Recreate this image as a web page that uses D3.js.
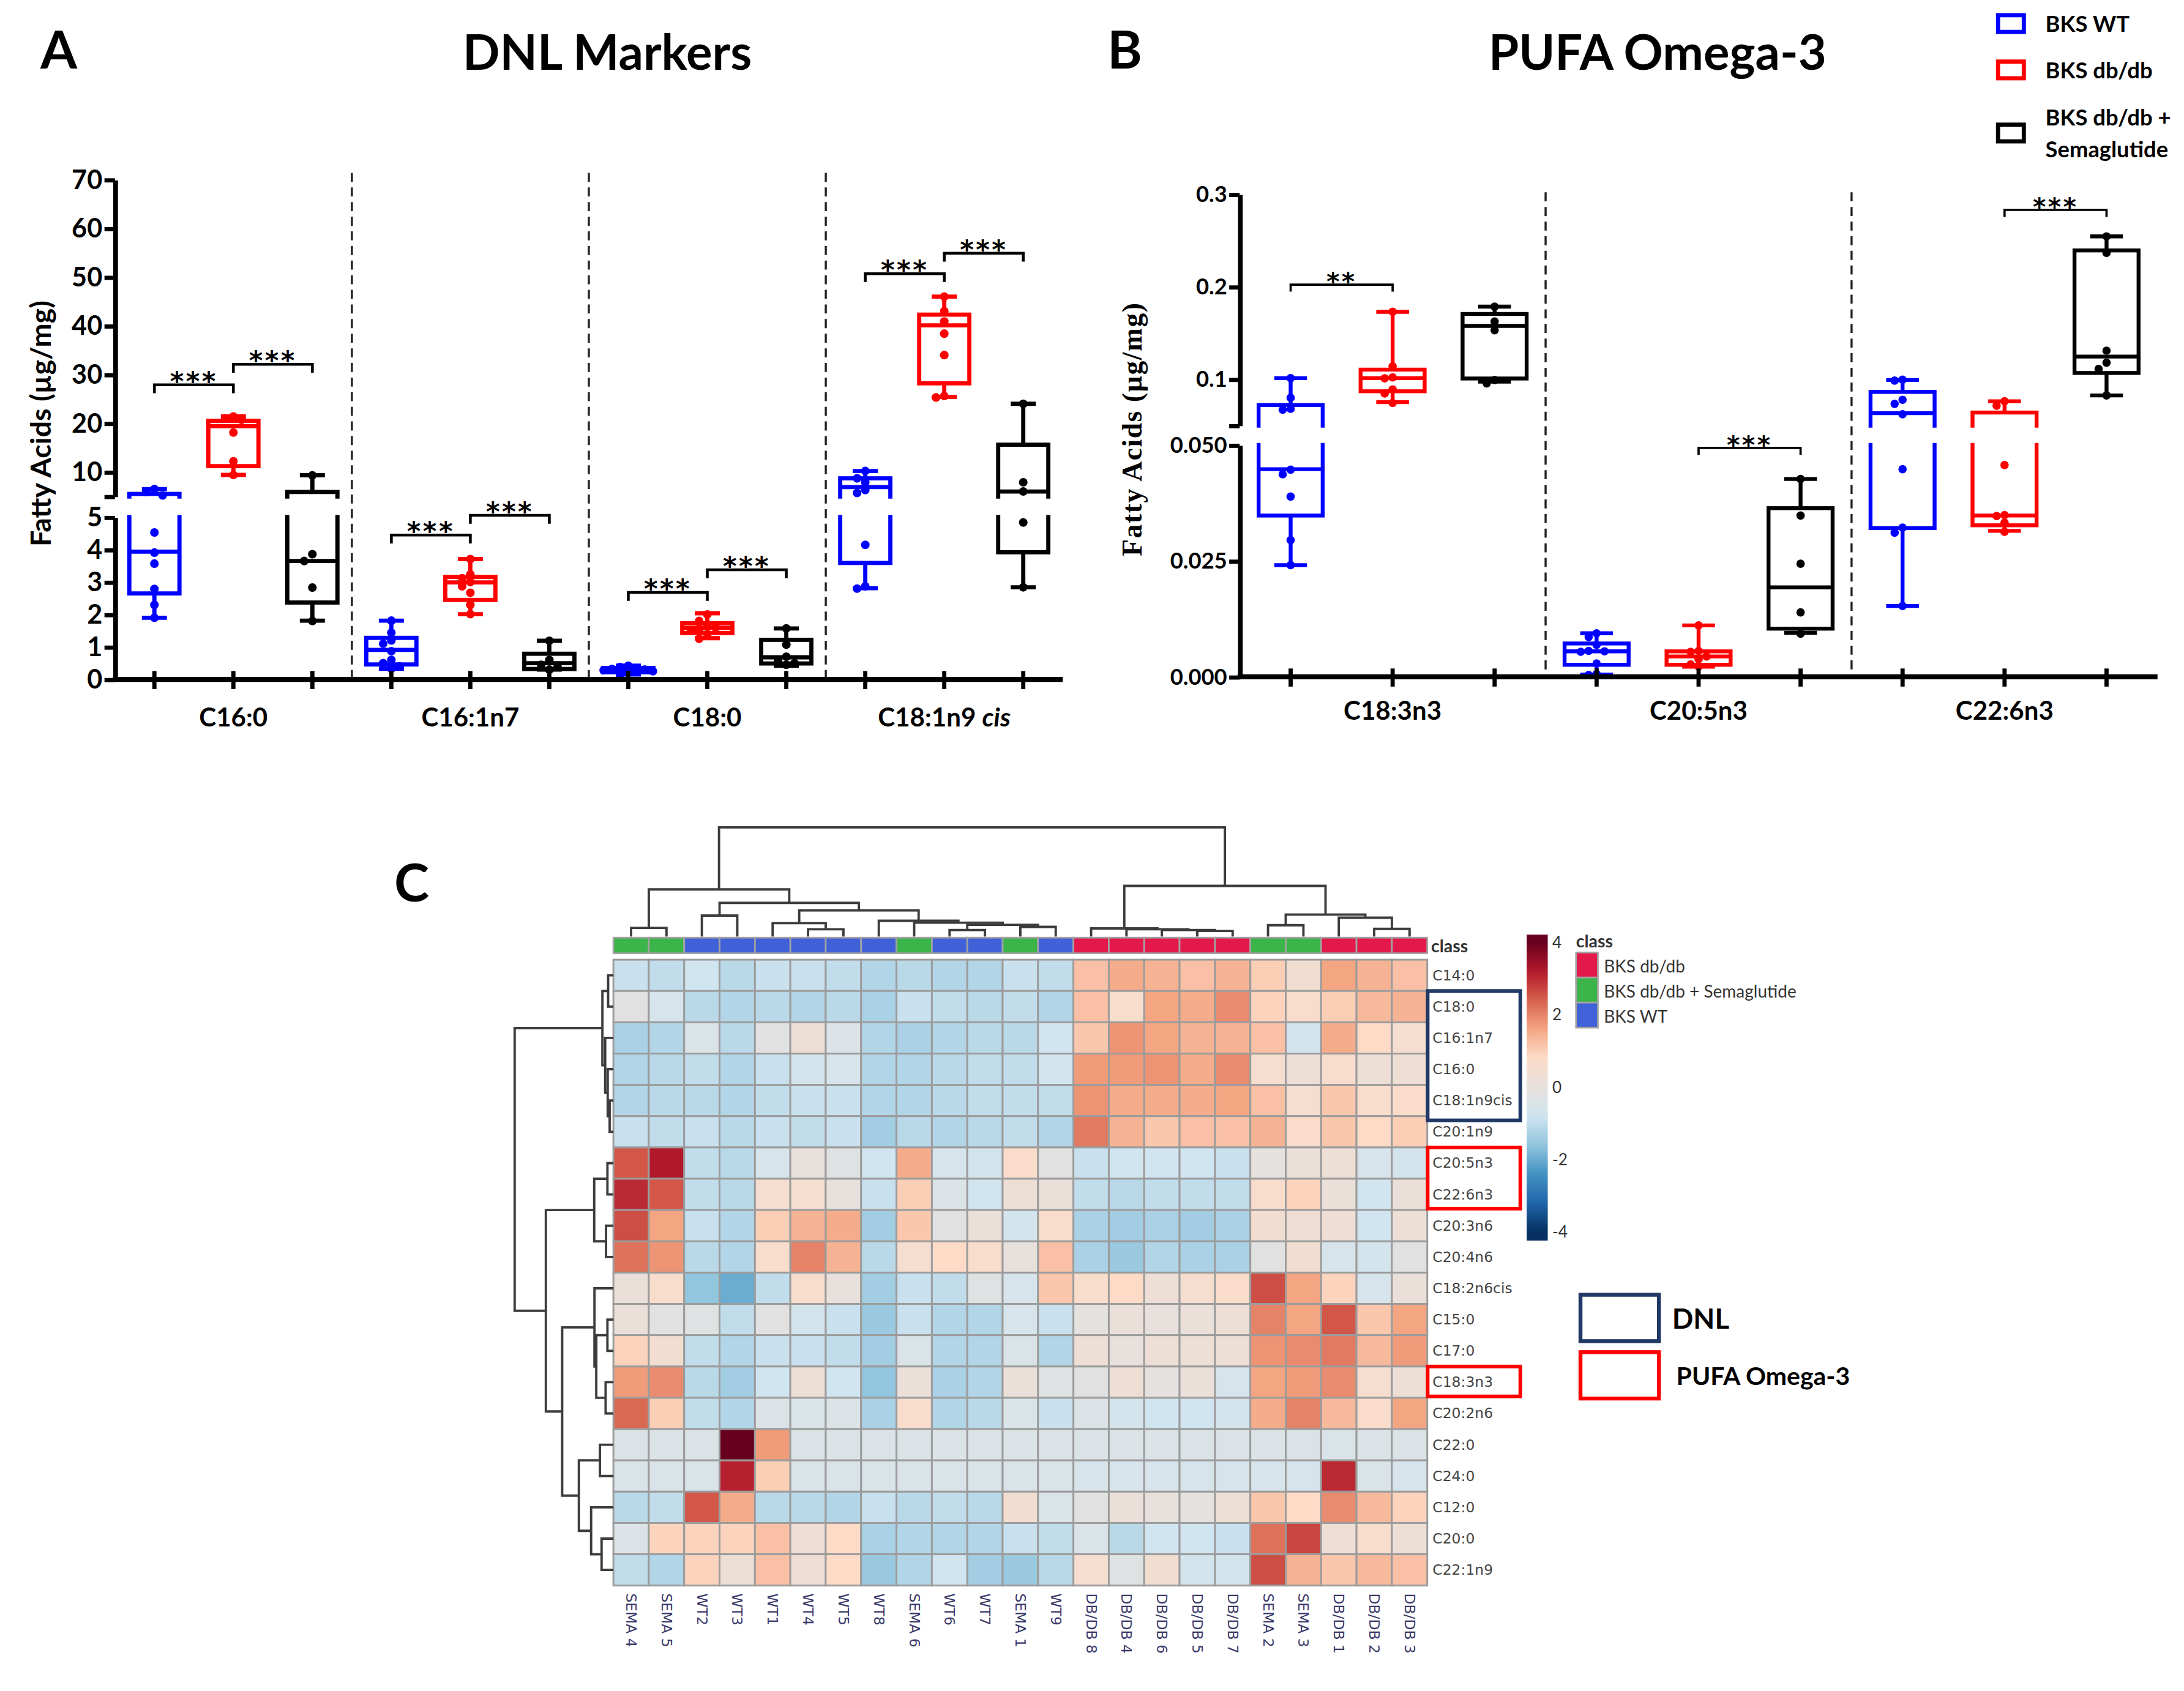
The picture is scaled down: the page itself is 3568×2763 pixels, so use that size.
<!DOCTYPE html>
<html lang="en">
<head>
<meta charset="UTF-8">
<title>DNL markers, PUFA omega-3 and fatty acid heatmap</title>
<script src="https://d3js.org/d3.v7.min.js"></script>
<style>
  body { margin: 0; padding: 0; background: #fff; }
  svg { display: block; }
</style>
</head>
<body>
<svg id="fig" width="3568" height="2763" viewBox="0 0 1568 1214"></svg>
<script>
// ---------- data ----------
const groups = ["BKS WT", "BKS db/db", "BKS db/db + Semaglutide"];

// panel A: DNL markers (µg/mg), per category -> per group -> [min, q1, median, q3, max]
const dnlCats = ["C16:0", "C16:1n7", "C18:0", "C18:1n9 cis"];
const dnlStats = [
  [[1.9, 2.65, 3.94, 5.5, 6.5], [9.4, 11.2, 19.4, 20.5, 21.4], [1.81, 2.37, 3.65, 5.9, 9.34]],
  [[0.33, 0.46, 0.91, 1.28, 1.81], [2.01, 2.45, 2.99, 3.16, 3.71], [0.3, 0.32, 0.5, 0.79, 1.19]],
  [[0.15, 0.22, 0.3, 0.35, 0.42], [1.27, 1.43, 1.59, 1.73, 2.04], [0.42, 0.49, 0.68, 1.22, 1.57]],
  [[2.81, 3.59, 6.9, 8.7, 10.2], [25.4, 28.2, 40.1, 42.3, 46.0], [2.84, 3.92, 6.0, 15.6, 24.0]]
];
const dnlPoints = [
  [[6.5, 5.9, 5.2, 4.53, 3.91, 3.57, 2.79, 2.3, 1.9], [21.4, 21.0, 20.7, 18.1, 12.2, 9.4], [9.3, 3.86, 3.65, 2.83, 1.8]],
  [[1.81, 1.44, 1.2, 1.1, 0.87, 0.6, 0.5, 0.4, 0.33], [3.71, 3.24, 3.12, 3.0, 2.87, 2.67, 2.3, 2.01], [1.19, 0.6, 0.45, 0.38, 0.3]],
  [[0.42, 0.38, 0.35, 0.32, 0.3, 0.28, 0.25, 0.22, 0.15], [2.0, 1.8, 1.7, 1.6, 1.55, 1.5, 1.4, 1.25], [1.57, 1.07, 0.7, 0.6, 0.5, 0.45]],
  [[10.2, 8.7, 7.9, 6.3, 5.7, 4.15, 2.87, 2.8], [46.0, 43.0, 40.9, 38.4, 34.0, 25.6, 25.3], [24.0, 7.9, 6.0, 4.84, 2.84]]
];
const dnlSig = [
  { cat: "C16:0", a: 0, b: 1, y: 27.9, label: "***" },
  { cat: "C16:0", a: 1, b: 2, y: 32.1, label: "***" },
  { cat: "C16:1n7", a: 0, b: 1, y: 4.45, label: "***" },
  { cat: "C16:1n7", a: 1, b: 2, y: 5.06, label: "***" },
  { cat: "C18:0", a: 0, b: 1, y: 2.68, label: "***" },
  { cat: "C18:0", a: 1, b: 2, y: 3.38, label: "***" },
  { cat: "C18:1n9 cis", a: 0, b: 1, y: 50.7, label: "***" },
  { cat: "C18:1n9 cis", a: 1, b: 2, y: 54.9, label: "***" }
];
const dnlTicksUp = [5, 10, 20, 30, 40, 50, 60, 70];
const dnlTicksLo = [0, 1, 2, 3, 4, 5];

// panel B: PUFA omega-3 (µg/mg)
const pufaCats = ["C18:3n3", "C20:5n3", "C22:6n3"];
const pufaStats = [
  [[0.0241, 0.0348, 0.0448, 0.0721, 0.1012], [0.0752, 0.087, 0.1012, 0.1104, 0.1729], [0.0974, 0.1008, 0.1577, 0.1706, 0.1785]],
  [[0.0005, 0.0026, 0.0055, 0.0072, 0.0094], [0.0022, 0.0026, 0.0044, 0.0055, 0.0111], [0.0095, 0.0104, 0.0193, 0.0364, 0.0427]],
  [[0.0153, 0.0321, 0.0633, 0.0863, 0.0992], [0.0315, 0.0327, 0.0348, 0.064, 0.0762], [0.0825, 0.1068, 0.1245, 0.2393, 0.2545]]
];
const pufaPoints = [
  [[0.1012, 0.080, 0.068, 0.067, 0.0447, 0.0437, 0.0389, 0.0295, 0.0241], [0.173, 0.114, 0.102, 0.101, 0.0889, 0.0846, 0.0744], [0.1785, 0.1625, 0.153, 0.0992, 0.0956]],
  [[0.0094, 0.0086, 0.0069, 0.0056, 0.0055, 0.0054, 0.0029, 0.0006, 0.0004], [0.0111, 0.0056, 0.0054, 0.0044, 0.0038, 0.0027, 0.0022], [0.0427, 0.0348, 0.0244, 0.0139, 0.0093]],
  [[0.0995, 0.0985, 0.0778, 0.0734, 0.0621, 0.0448, 0.0322, 0.0311, 0.0153], [0.0762, 0.0714, 0.0457, 0.0349, 0.0347, 0.0333, 0.0313], [0.2545, 0.2367, 0.1309, 0.1179, 0.1111, 0.0825]]
];
const pufaSig = [
  { cat: "C18:3n3", a: 0, b: 1, y: 0.2023, label: "**" },
  { cat: "C20:5n3", a: 1, b: 2, y: 0.0494, label: "***" },
  { cat: "C22:6n3", a: 1, b: 2, y: 0.2831, label: "***" }
];
const pufaTicksUp = [0.05, 0.1, 0.2, 0.3];
const pufaTicksLo = [0, 0.025, 0.05];

// panel C: heatmap (z-scores)
const classNames = ["BKS db/db", "BKS db/db + Semaglutide", "BKS WT"];
const hmCols = ["SEMA 4", "SEMA 5", "WT2", "WT3", "WT1", "WT4", "WT5", "WT8", "SEMA 6", "WT6", "WT7", "SEMA 1", "WT9",
  "DB/DB 8", "DB/DB 4", "DB/DB 6", "DB/DB 5", "DB/DB 7", "SEMA 2", "SEMA 3", "DB/DB 1", "DB/DB 2", "DB/DB 3"];
const hmClass = [1, 1, 2, 2, 2, 2, 2, 2, 1, 2, 2, 1, 2, 0, 0, 0, 0, 0, 1, 1, 0, 0, 0];
const hmRows = ["C14:0", "C18:0", "C16:1n7", "C16:0", "C18:1n9cis", "C20:1n9", "C20:5n3", "C22:6n3", "C20:3n6", "C20:4n6",
  "C18:2n6cis", "C15:0", "C17:0", "C18:3n3", "C20:2n6", "C22:0", "C24:0", "C12:0", "C20:0", "C22:1n9"];
const hmValues = [
  [-0.9, -1.0, -0.8, -1.1, -0.9, -0.9, -1.0, -1.2, -1.1, -1.2, -1.2, -0.9, -1.0, 1.2, 1.5, 1.4, 1.2, 1.4, 1.0, 0.4, 1.6, 1.4, 1.2],
  [-0.2, -0.6, -1.1, -1.2, -1.1, -1.2, -1.1, -1.3, -0.9, -1.0, -1.1, -1.0, -1.2, 1.2, 0.6, 1.6, 1.5, 1.9, 0.9, 0.6, 1.0, 1.3, 1.4],
  [-1.3, -1.2, -0.5, -1.1, -0.2, 0.2, -0.4, -1.2, -1.3, -1.2, -1.1, -1.1, -0.8, 1.1, 1.8, 1.6, 1.4, 1.4, 1.2, -0.7, 1.5, 0.8, 0.5],
  [-1.2, -1.1, -1.0, -1.2, -0.9, -0.7, -0.6, -1.2, -1.2, -1.1, -1.0, -1.0, -0.7, 1.7, 1.7, 1.8, 1.5, 1.9, 0.5, 0.2, 0.6, 0.2, 0.3],
  [-1.2, -1.1, -1.1, -1.2, -1.0, -0.9, -0.9, -1.2, -1.2, -1.1, -1.0, -1.0, -1.0, 1.8, 1.5, 1.5, 1.5, 1.6, 1.2, 0.5, 1.1, 0.6, 0.7],
  [-0.9, -1.0, -0.9, -1.1, -0.9, -1.0, -0.9, -1.4, -1.1, -1.2, -1.1, -1.0, -1.2, 2.1, 1.4, 1.1, 1.2, 1.2, 1.4, 0.7, 1.1, 0.8, 1.0],
  [2.5, 3.2, -1.0, -1.1, -0.6, 0.0, -0.3, -0.8, 1.5, -0.6, -0.7, 0.7, -0.2, -0.9, -0.8, -0.8, -0.8, -0.9, -0.1, 0.1, 0.2, -0.6, -0.7],
  [3.0, 2.5, -1.0, -1.1, 0.5, 0.5, 0.0, -0.9, 1.0, -0.4, -0.8, 0.2, 0.1, -1.0, -1.1, -1.0, -1.0, -1.0, 0.6, 0.9, 0.1, -0.8, 0.1],
  [2.6, 1.6, -0.9, -1.2, 1.0, 1.4, 1.5, -1.4, 1.1, -0.2, 0.1, -0.7, 0.6, -1.3, -1.4, -1.3, -1.4, -1.3, 0.4, 0.3, 0.3, -0.8, 0.2],
  [2.2, 1.8, -1.1, -1.2, 0.6, 2.0, 1.4, -1.1, 0.5, 0.8, 0.6, 0.0, 1.2, -1.3, -1.5, -1.2, -1.3, -1.3, -0.2, 0.4, -0.6, -0.7, -0.2],
  [0.1, 0.6, -1.6, -2.0, -1.0, 0.6, 0.0, -1.4, -0.9, -1.0, -0.3, -0.6, 1.1, 0.6, 0.8, 0.2, 0.5, 0.7, 2.6, 1.6, 0.9, -0.6, 0.1],
  [0.1, -0.2, -0.3, -1.0, -0.2, -0.7, -0.9, -1.5, -0.9, -1.2, -1.2, -0.6, -0.9, -0.1, 0.1, 0.0, 0.1, 0.2, 2.0, 1.6, 2.5, 1.1, 1.6],
  [0.9, 0.4, -1.0, -1.2, -0.9, -0.9, -1.0, -1.4, -0.5, -1.2, -1.2, -0.5, -1.2, 0.2, 0.0, 0.2, 0.2, 0.2, 1.8, 1.9, 2.1, 1.3, 1.7],
  [1.7, 1.9, -1.1, -1.4, -0.8, 0.2, -0.8, -1.6, 0.1, -1.3, -1.2, 0.1, -0.3, -0.2, 0.3, -0.1, 0.1, -0.6, 1.6, 1.7, 1.9, 0.5, 0.2],
  [2.3, 1.0, -1.0, -1.2, -0.4, -0.5, -0.4, -1.3, 0.6, -1.2, -1.1, -0.5, -0.9, -0.4, -0.7, -0.8, -0.8, -0.7, 1.5, 2.0, 1.3, 0.7, 1.6],
  [-0.4, -0.4, -0.4, 4.0, 1.7, -0.4, -0.4, -0.4, -0.4, -0.4, -0.4, -0.4, -0.4, -0.4, -0.4, -0.4, -0.4, -0.4, -0.4, -0.4, -0.5, -0.4, -0.4],
  [-0.5, -0.5, -0.5, 3.1, 1.0, -0.5, -0.5, -0.5, -0.5, -0.5, -0.5, -0.5, -0.5, -0.6, -0.6, -0.6, -0.6, -0.6, -0.6, -0.6, 3.0, -0.5, -0.6],
  [-1.1, -1.0, 2.5, 1.5, -1.1, -1.1, -1.2, -0.9, -1.1, -1.0, -1.1, 0.4, -0.5, -0.2, 0.1, 0.0, -0.1, 0.2, 1.1, 0.8, 1.9, 1.3, 0.9],
  [-0.4, 0.9, 0.9, 0.9, 1.2, 0.3, 0.8, -1.3, -1.2, -1.2, -1.2, -0.9, -1.0, -0.5, -1.1, -0.8, -0.8, -0.9, 2.2, 2.7, 0.3, 0.6, 0.2],
  [-1.0, -1.2, 0.9, 0.2, 1.2, 0.3, 0.8, -1.5, -1.2, -0.8, -1.4, -1.5, -1.1, 0.5, -0.3, 0.4, -0.7, -0.7, 2.6, 1.4, 1.1, 1.3, 1.2]
];
// hclust-style merges: negative = leaf (-(index+1)), positive = earlier merge (1-based), then height
const colMerges = [
  [-1, -2, 6.2], [-3, -4, 15], [-6, -7, 5.2], [-5, 3, 9.6], [-10, -11, 4.7], [-12, -13, 6.9],
  [5, 6, 8.4], [-9, 7, 9.9], [-8, 8, 11.3], [4, 9, 18.7], [2, 10, 24.1], [1, 11, 33.7],
  [-17, -18, 4], [-16, 13, 4.7], [-15, 14, 5.2], [-14, 15, 5.8], [-19, -20, 8.1], [-22, -23, 5.5],
  [-21, 18, 13.5], [17, 19, 15.7], [16, 20, 36.2], [12, 21, 78]
];
const rowMerges = [
  [-1, -2, 3.8], [-5, -6, 2.7], [-4, 2, 4.1], [-3, 3, 5.9], [1, 4, 7.9],
  [-7, -8, 4.3], [-9, -10, 5.3], [6, 7, 13.8],
  [-12, -13, 4.3], [-14, -15, 5.6], [9, 10, 12.3], [-11, 11, 13.6],
  [-16, -17, 9.7], [-19, -20, 8.5], [-18, 14, 16], [13, 15, 24.8],
  [12, 16, 36.8], [8, 17, 48.5], [5, 18, 70.9]
];
const colorTicks = [4, 2, 0, -2, -4];
const dnlBoxRows = ["C18:0", "C16:1n7", "C16:0", "C18:1n9cis"];
const pufaBoxRows = [["C20:5n3", "C22:6n3"], ["C18:3n3"]];

// ---------- styles ----------
const groupColor = { "BKS WT": "#0000ff", "BKS db/db": "#ff0000", "BKS db/db + Semaglutide": "#000000" };
const classColor = { "BKS db/db": "#e3194b", "BKS db/db + Semaglutide": "#3bb44a", "BKS WT": "#4161d8" };
const SANS = "Lato, 'Open Sans', sans-serif";
const HM = "'DejaVu Sans', sans-serif";
// 10-class RdBu ramp (no white centre, so near-zero cells come out greyish)
const rdbu10 = ["#67001f", "#b2182b", "#d6604d", "#f4a582", "#fddbc7", "#d1e5f0", "#92c5de", "#4393c3", "#2166ac", "#053061"];

const svg = d3.select("#fig");
svg.append("rect").attr("width", 1568).attr("height", 1214).attr("fill", "#fff");
const defs = svg.append("defs");

function boxPanel(cfg) {
  const g = svg.append("g");
  const slots = cfg.cats.flatMap(c => groups.map(gr => c + "|" + gr));
  const x = d3.scalePoint().domain(slots).range([cfg.x0, cfg.x1]).padding(0.5);
  const yU = d3.scaleLinear().domain(cfg.upper).range(cfg.upperPx);
  const yL = d3.scaleLinear().domain(cfg.lower).range(cfg.lowerPx);
  const brk = cfg.lower[1];
  const yAny = v => v >= brk ? yU(v) : yL(v);
  const axisY = cfg.lowerPx[0];

  defs.append("clipPath").attr("id", cfg.id + "-up").append("rect")
    .attr("x", cfg.x0 + 2).attr("y", cfg.upperPx[1] - 80)
    .attr("width", cfg.x1 - cfg.x0).attr("height", cfg.upperPx[0] - cfg.upperPx[1] + 80 + 1.6);
  defs.append("clipPath").attr("id", cfg.id + "-lo").append("rect")
    .attr("x", cfg.x0 + 2).attr("y", cfg.lowerPx[1] - 1.6)
    .attr("width", cfg.x1 - cfg.x0).attr("height", cfg.lowerPx[0] - cfg.lowerPx[1] + 4);

  // dashed separators between categories
  const seps = cfg.cats.slice(1).map((c, i) =>
    (x(cfg.cats[i] + "|" + groups[2]) + x(c + "|" + groups[0])) / 2);
  g.selectAll("line.sep").data(seps).join("line")
    .attr("x1", d => d).attr("x2", d => d)
    .attr("y1", cfg.sepTop).attr("y2", axisY)
    .attr("stroke", "#222").attr("stroke-width", 1.5).attr("stroke-dasharray", "6.5,4");

  // boxes, drawn once per axis segment
  const boxes = [];
  cfg.cats.forEach((c, ci) => groups.forEach((gr, gi) => {
    const s = cfg.stats[ci][gi];
    boxes.push({ key: c + "|" + gr, gr, mn: s[0], q1: s[1], md: s[2], q3: s[3], mx: s[4] });
  }));
  [[yU, "up"], [yL, "lo"]].forEach(([y, part]) => {
    const layer = g.append("g").attr("clip-path", `url(#${cfg.id}-${part})`);
    const b = layer.selectAll("g.box").data(boxes).join("g")
      .attr("stroke", d => groupColor[d.gr]).attr("stroke-width", cfg.stroke).attr("fill", "none");
    b.append("line").attr("x1", d => x(d.key)).attr("x2", d => x(d.key))
      .attr("y1", d => y(d.q3)).attr("y2", d => y(d.mx));
    b.append("line").attr("x1", d => x(d.key)).attr("x2", d => x(d.key))
      .attr("y1", d => y(d.q1)).attr("y2", d => y(d.mn));
    b.append("line").attr("x1", d => x(d.key) - cfg.capW / 2).attr("x2", d => x(d.key) + cfg.capW / 2)
      .attr("y1", d => y(d.mx)).attr("y2", d => y(d.mx));
    b.append("line").attr("x1", d => x(d.key) - cfg.capW / 2).attr("x2", d => x(d.key) + cfg.capW / 2)
      .attr("y1", d => y(d.mn)).attr("y2", d => y(d.mn));
    b.append("rect").attr("x", d => x(d.key) - cfg.boxW / 2).attr("width", cfg.boxW)
      .attr("y", d => y(d.q3)).attr("height", d => y(d.q1) - y(d.q3)).attr("fill", "none");
    b.append("line").attr("x1", d => x(d.key) - cfg.boxW / 2).attr("x2", d => x(d.key) + cfg.boxW / 2)
      .attr("y1", d => y(d.md)).attr("y2", d => y(d.md));
  });

  // individual points, spread sideways where they would overlap
  const pts = [];
  const r = cfg.r, minD = 2 * r * 0.85, step = 2 * r * 0.95;
  cfg.cats.forEach((c, ci) => groups.forEach((gr, gi) => {
    const placed = [];
    cfg.points[ci][gi].map(v => ({ v, y: yAny(v) })).sort((a, b) => a.y - b.y).forEach(p => {
      p.dx = 0;
      for (const o of [0, -1, 1, -2, 2, -3, 3]) {
        const dx = o * step;
        if (placed.every(q => Math.hypot(q.dx - dx, q.y - p.y) >= minD)) { p.dx = dx; break; }
      }
      placed.push(p);
      pts.push({ ...p, key: c + "|" + gr, gr });
    });
  }));
  g.selectAll("circle.pt").data(pts).join("circle")
    .attr("cx", d => x(d.key) + d.dx).attr("cy", d => d.y).attr("r", r)
    .attr("fill", d => groupColor[d.gr]);

  // significance brackets
  cfg.sigs.forEach(s => {
    const xa = x(s.cat + "|" + groups[s.a]), xb = x(s.cat + "|" + groups[s.b]);
    const yy = s.y > cfg.sigBreak ? yU(s.y) : yL(s.y);
    g.append("path").attr("d", `M${xa},${yy + cfg.sigTick}V${yy}H${xb}V${yy + cfg.sigTick}`)
      .attr("fill", "none").attr("stroke", "#000").attr("stroke-width", cfg.sigStroke);
    g.append("text").attr("x", (xa + xb) / 2).attr("y", yy + 4).attr("text-anchor", "middle")
      .attr("font-family", "'DejaVu Sans', sans-serif").attr("font-weight", 700).attr("font-size", cfg.starFont)
      .attr("letter-spacing", 1.5).text(s.label);
  });

  // y axis, broken in two
  const styleAxis = sel => {
    sel.attr("font-family", SANS).attr("font-weight", 700).attr("font-size", cfg.tickFont);
    sel.select("path.domain").attr("stroke", "#000").attr("stroke-width", 3.4);
    sel.selectAll(".tick line").attr("stroke", "#000").attr("stroke-width", 3);
    sel.selectAll(".tick text").attr("fill", "#000");
  };
  g.append("g").attr("transform", `translate(${cfg.x0},0)`)
    .call(d3.axisLeft(yU).tickValues(cfg.ticksUp).tickSize(7.5).tickSizeOuter(0).tickPadding(1.5).tickFormat(cfg.fmtUp))
    .call(styleAxis);
  g.append("g").attr("transform", `translate(${cfg.x0},0)`)
    .call(d3.axisLeft(yL).tickValues(cfg.ticksLo).tickSize(7.5).tickSizeOuter(0).tickPadding(1.5).tickFormat(cfg.fmtLo))
    .call(styleAxis);

  // x axis
  g.append("line").attr("x1", cfg.x0 - 1.5).attr("x2", cfg.x1).attr("y1", axisY).attr("y2", axisY)
    .attr("stroke", "#000").attr("stroke-width", 3.6);
  g.selectAll("line.xt").data(slots).join("line")
    .attr("x1", d => x(d)).attr("x2", d => x(d)).attr("y1", axisY - 6).attr("y2", axisY + 7)
    .attr("stroke", "#000").attr("stroke-width", 3);
  const cl = g.selectAll("text.cat").data(cfg.cats).join("text")
    .attr("x", c => x(c + "|" + groups[1])).attr("y", cfg.catY).attr("text-anchor", "middle")
    .attr("font-family", SANS).attr("font-weight", 700).attr("font-size", 18.5);
  cl.each(function (c) {
    const t = d3.select(this);
    if (c.endsWith(" cis")) {
      t.append("tspan").text(c.replace(" cis", "") + " ");
      t.append("tspan").attr("font-style", "italic").text("cis");
    } else t.text(c);
  });
}

// ---------- panel A ----------
boxPanel({
  id: "dnl", cats: dnlCats, stats: dnlStats, points: dnlPoints, sigs: dnlSig,
  x0: 82.5, x1: 763, upper: [5, 70], upperPx: [356.3, 128.9], lower: [0, 5], lowerPx: [487.7, 371.3],
  ticksUp: dnlTicksUp, ticksLo: dnlTicksLo, fmtUp: d => d === 5 ? "" : d, fmtLo: d => d,
  tickFont: 19, stroke: 3, boxW: 36, capW: 18, r: 3.1, sigBreak: 5.5, sigTick: 6, sigStroke: 2,
  starFont: 19, sepTop: 124, catY: 521.5
});
// ---------- panel B ----------
boxPanel({
  id: "pufa", cats: pufaCats, stats: pufaStats, points: pufaPoints, sigs: pufaSig,
  x0: 890, x1: 1549, upper: [0.05, 0.3], upperPx: [305.4, 139.4], lower: [0, 0.05], lowerPx: [485.9, 319.5],
  ticksUp: pufaTicksUp, ticksLo: pufaTicksLo, fmtUp: d => d === 0.05 ? "" : d3.format(".1f")(d),
  fmtLo: d3.format(".3f"), tickFont: 16, stroke: 2.8, boxW: 46, capW: 23.5, r: 3, sigBreak: 0.05,
  sigTick: 5, sigStroke: 1.6, starFont: 18, sepTop: 138, catY: 516.5
});

// titles, panel letters, axis labels
const txt = (x, y, s, size, extra) => {
  const t = svg.append("text").attr("x", x).attr("y", y).attr("font-family", SANS)
    .attr("font-weight", 700).attr("font-size", size).attr("fill", "#000").text(s);
  if (extra) extra(t);
  return t;
};
txt(29, 49, "A", 38);
txt(795, 49, "B", 38);
txt(283, 647, "C", 38);
txt(436, 50, "DNL Markers", 35, t => t.attr("text-anchor", "middle"));
txt(1190, 50, "PUFA Omega-3", 35, t => t.attr("text-anchor", "middle"));
txt(0, 0, "Fatty Acids (µg/mg)", 20.5, t => t.attr("text-anchor", "middle")
  .attr("dominant-baseline", "central").attr("transform", "translate(28.5,304) rotate(-90)"));
svg.append("text").attr("text-anchor", "middle").attr("dominant-baseline", "central")
  .attr("transform", "translate(813,308) rotate(-90)")
  .attr("font-family", "'Liberation Serif', 'DejaVu Serif', serif").attr("font-weight", 700)
  .attr("font-size", 20).attr("letter-spacing", 0.7).text("Fatty Acids (µg/mg)");

// group legend (top right)
const legY = [[16.8], [50.1], [84, 106.8]];
const leg = svg.append("g");
groups.forEach((gr, i) => {
  const lines = gr === "BKS db/db + Semaglutide" ? ["BKS db/db +", "Semaglutide"] : [gr];
  const cy = d3.mean(legY[i]);
  leg.append("rect").attr("x", 1434.5).attr("y", cy - 6).attr("width", 18.5).attr("height", 12)
    .attr("fill", "none").attr("stroke", groupColor[gr]).attr("stroke-width", 3);
  lines.forEach((l, j) => leg.append("text").attr("x", 1468.5).attr("y", legY[i][j])
    .attr("dominant-baseline", "central").attr("font-family", SANS).attr("font-weight", 700)
    .attr("font-size", 16).text(l));
});

// ---------- panel C: heatmap ----------
const hx = d3.scaleBand().domain(d3.range(hmCols.length)).range([440.4, 1024.7]);
const hy = d3.scaleBand().domain(d3.range(hmRows.length)).range([689, 1138.4]);
const heat = d3.scaleLinear()
  .domain([4, 3.2, 2.4, 1.6, 0.8, -0.8, -1.6, -2.4, -3.2, -4])
  .range(rdbu10).interpolate(d3.interpolateRgb).clamp(true);
const hm = svg.append("g");
const cells = hmValues.flatMap((row, ri) => row.map((v, ci) => ({ ri, ci, v })));
hm.selectAll("rect.cell").data(cells).join("rect")
  .attr("x", d => hx(d.ci)).attr("y", d => hy(d.ri))
  .attr("width", hx.bandwidth()).attr("height", hy.bandwidth())
  .attr("fill", d => heat(d.v)).attr("stroke", "#9c9c9c").attr("stroke-width", 1.3);
hm.selectAll("rect.cls").data(hmClass).join("rect")
  .attr("x", (d, i) => hx(i)).attr("y", 673.2).attr("width", hx.bandwidth()).attr("height", 11.2)
  .attr("fill", d => classColor[classNames[d]]).attr("stroke", "#a3a3a3").attr("stroke-width", 1.2);
hm.selectAll("text.rl").data(hmRows).join("text")
  .attr("x", 1028.5).attr("y", (d, i) => hy(i) + hy.bandwidth() / 2).attr("dominant-baseline", "central")
  .attr("font-family", HM).attr("font-size", 10.3).attr("fill", "#444").text(d => d);
hm.append("text").attr("x", 1027.5).attr("y", 678.8).attr("dominant-baseline", "central")
  .attr("font-family", SANS).attr("font-weight", 700).attr("font-size", 12.5).attr("fill", "#333").text("class");
hm.selectAll("text.cl").data(hmCols).join("text")
  .attr("transform", (d, i) => `translate(${hx(i) + hx.bandwidth() / 2},1144) rotate(90)`)
  .attr("dominant-baseline", "central").attr("font-family", HM).attr("font-size", 10.3)
  .attr("fill", "#3a3a6a").text(d => d);

// dendrograms
function dendroSegs(merges, leafPos) {
  const pos = [], ht = [], segs = [];
  const get = k => k < 0 ? { p: leafPos(-k - 1), h: 0 } : { p: pos[k - 1], h: ht[k - 1] };
  merges.forEach(([a, b, h]) => {
    const A = get(a), B = get(b);
    segs.push({ A, B, h });
    pos.push((A.p + B.p) / 2); ht.push(h);
  });
  return segs;
}
const colH = d3.scaleLinear().domain([0, 78]).range([672.4, 594]);
hm.selectAll("path.cd").data(dendroSegs(colMerges, i => hx(i) + hx.bandwidth() / 2)).join("path")
  .attr("d", s => `M${s.A.p},${colH(s.A.h)}V${colH(s.h)}H${s.B.p}V${colH(s.B.h)}`)
  .attr("fill", "none").attr("stroke", "#3c3c3c").attr("stroke-width", 1.7);
const rowH = d3.scaleLinear().domain([0, 70.9]).range([440.4, 369.5]);
hm.selectAll("path.rd").data(dendroSegs(rowMerges, i => hy(i) + hy.bandwidth() / 2)).join("path")
  .attr("d", s => `M${rowH(s.A.h)},${s.A.p}H${rowH(s.h)}V${s.B.p}H${rowH(s.B.h)}`)
  .attr("fill", "none").attr("stroke", "#3c3c3c").attr("stroke-width", 1.7);

// highlight boxes on the row labels
const rowIdx = n => hmRows.indexOf(n);
const hiBox = (names, color, padB) => {
  const y0 = hy(rowIdx(names[0])), y1 = hy(rowIdx(names[names.length - 1])) + hy.bandwidth() + padB;
  hm.append("rect").attr("x", 1025).attr("y", y0).attr("width", 66.5).attr("height", y1 - y0)
    .attr("fill", "none").attr("stroke", color).attr("stroke-width", 2.6);
};
hiBox(dnlBoxRows, "#1f3864", 3);
pufaBoxRows.forEach(r => hiBox(r, "#ff0000", -1));

// colour bar
const cb = d3.scaleLinear().domain([-4, 4]).range([884.2, 676.2]);
const grad = defs.append("linearGradient").attr("id", "cbgrad").attr("x1", 0).attr("x2", 0).attr("y1", 0).attr("y2", 1);
d3.range(0, 1.0001, 0.025).forEach(t => grad.append("stop").attr("offset", t)
  .attr("stop-color", heat(cb.invert(cb(4.2) + t * (cb(-4.25) - cb(4.2))))));
hm.append("rect").attr("x", 1096.1).attr("y", cb(4.2)).attr("width", 15.1).attr("height", cb(-4.25) - cb(4.2))
  .attr("fill", "url(#cbgrad)");
hm.selectAll("text.cbt").data(colorTicks).join("text")
  .attr("x", 1114.5).attr("y", d => cb(d)).attr("dominant-baseline", "central")
  .attr("font-family", SANS).attr("font-size", 11.5).attr("fill", "#333").text(d => d);

// class legend
hm.append("text").attr("x", 1131.5).attr("y", 675.4).attr("dominant-baseline", "central")
  .attr("font-family", SANS).attr("font-weight", 700).attr("font-size", 12.5).attr("fill", "#333").text("class");
classNames.forEach((c, i) => {
  const y0 = 683.8 + i * 18;
  hm.append("rect").attr("x", 1131.5).attr("y", y0).attr("width", 15.7).attr("height", 18)
    .attr("fill", classColor[c]).attr("stroke", "#a3a3a3").attr("stroke-width", 1.2);
  hm.append("text").attr("x", 1151.5).attr("y", y0 + 9.5).attr("dominant-baseline", "central")
    .attr("font-family", SANS).attr("font-size", 12.3).attr("fill", "#333").text(c);
});

// DNL / PUFA legend
[["DNL", "#1f3864", 929.6, 20, 1200.5], ["PUFA Omega-3", "#ff0000", 970.8, 18, 1203.5]].forEach(([l, col, y, fs, tx]) => {
  hm.append("rect").attr("x", 1134.7).attr("y", y).attr("width", 56.3).attr("height", 33.3)
    .attr("fill", "none").attr("stroke", col).attr("stroke-width", 2.8);
  hm.append("text").attr("x", tx).attr("y", y + 16.6).attr("dominant-baseline", "central")
    .attr("font-family", SANS).attr("font-weight", 700).attr("font-size", fs).text(l);
});
</script>
</body>
</html>
